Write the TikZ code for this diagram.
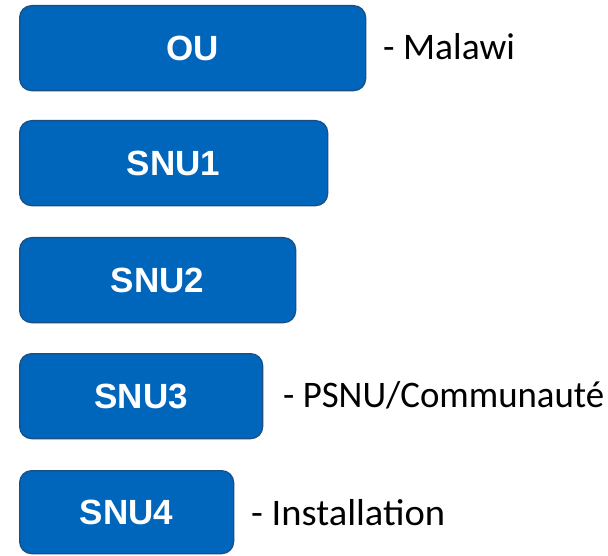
\documentclass[tikz,border=0pt]{standalone}
\usepackage{fontspec}
\usepackage{graphicx}
\setmainfont{Carlito}
\newfontfamily\boxfont{Liberation Sans}
\definecolor{boxfill}{HTML}{0066BB}
\definecolor{boxedge}{HTML}{1A4F86}
\begin{document}
\begin{tikzpicture}[x=1pt,y=-1pt,
  level/.style={draw=boxedge,line width=1.3pt,fill=boxfill,rounded corners=12pt,
    text=white,font=\boxfont\bfseries\fontsize{35}{40}\selectfont,
    minimum height=85pt,inner sep=0pt,anchor=north west},
  tag/.style={anchor=base west,inner sep=0pt,font=\fontsize{37.5}{42}\selectfont,text=black}]
\useasboundingbox (0,0) rectangle (608,556);
% hierarchy levels, each box narrower than the one above
\node[level,minimum width=346pt] (ou)   at (19,5)   {OU};
\node[level,minimum width=308pt] (snu1) at (19,120) {SNU1};
\node[level,minimum width=276pt] (snu2) at (19,237) {SNU2};
\node[level,minimum width=243pt] (snu3) at (19,353) {SNU3};
\node[level,minimum width=214pt,minimum height=83pt] (snu4) at (19,470) {SNU4};
% level descriptions
\node[tag] (tou)   at (383,60)  {- Malawi};
\node[tag] (tsnu3) at (283,407) {\resizebox{321pt}{\height}{- PSNU/Communauté}};
\node[tag] (tsnu4) at (251,525) {\resizebox{194pt}{\height}{- Installation}};
\end{tikzpicture}
\end{document}
